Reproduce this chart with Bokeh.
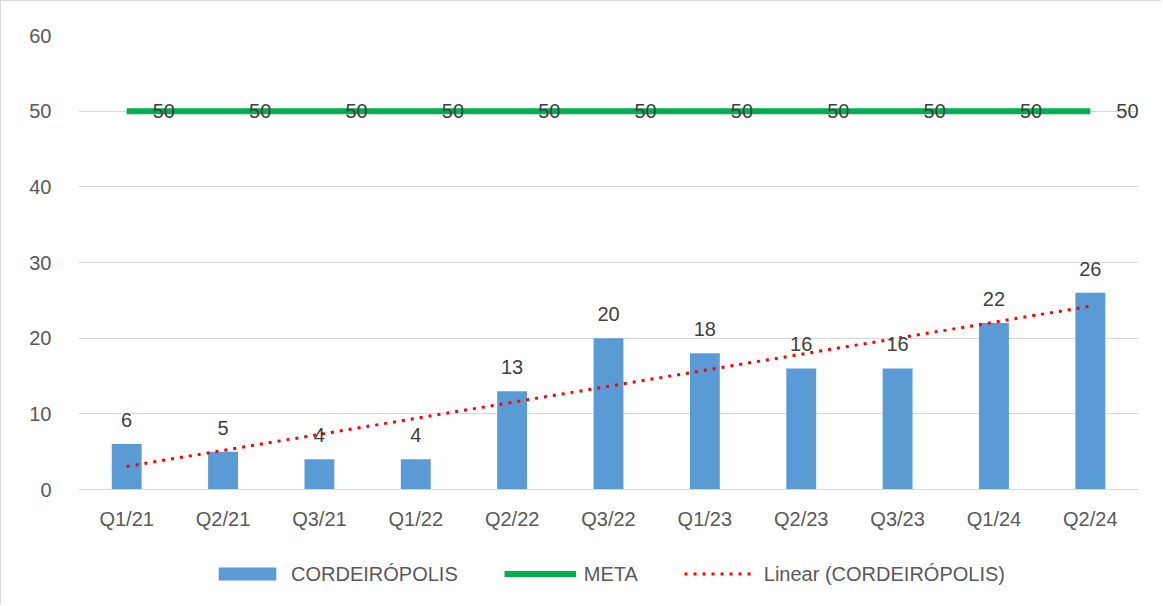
from bokeh.plotting import figure
from bokeh.layouts import column
from bokeh.models import (ColumnDataSource, LabelSet, Legend, LegendItem, FixedTicker, Range1d)
from bokeh.core.properties import value
from bokeh.embed import file_html
from bokeh.resources import INLINE
import numpy as np

categories = ["Q1/21", "Q2/21", "Q3/21", "Q1/22", "Q2/22", "Q3/22", "Q1/23", "Q2/23", "Q3/23", "Q1/24", "Q2/24"]
cordeiropolis = [6, 5, 4, 4, 13, 20, 18, 16, 16, 22, 26]
meta = [50, 50, 50, 50, 50, 50, 50, 50, 50, 50, 50]
y_ticks = [0, 10, 20, 30, 40, 50, 60]
series_names = ["CORDEIRÓPOLIS", "META", "Linear (CORDEIRÓPOLIS)"]

FONT = "Liberation Sans"
GRAY = "#595959"
BAR_C, META_C, TREND_C = "#5B9BD5", "#00B050", "#FF0000"
BORDER = "1px solid #D9D9D9"

idx = np.arange(1, len(categories) + 1)
slope, intercept = np.polyfit(idx, cordeiropolis, 1)
trend = list(intercept + slope * idx)

src = ColumnDataSource(dict(cat=categories, val=cordeiropolis, meta=meta, trend=trend,
                            val_lbl=[str(v) for v in cordeiropolis],
                            meta_lbl=[str(v) for v in meta]))

p = figure(x_range=categories, y_range=Range1d(0, 60), width=1161, height=543,
           output_backend="svg", toolbar_location=None,
           min_border_left=77, min_border_right=24, min_border_top=34, min_border_bottom=55)
p.x_range.range_padding = 0

p.vbar(x="cat", top="val", width=0.31, source=src, color=BAR_C, line_color=None)
p.line(x="cat", y="meta", source=src, line_color=META_C, line_width=6)
p.line(x="cat", y="trend", source=src, line_color=TREND_C, line_width=3, line_dash="3 6")

p.add_layout(LabelSet(x="cat", y="val", text="val_lbl", source=src, text_align="center",
                      text_baseline="bottom", y_offset=17, text_font=value(FONT),
                      text_font_size="20px", text_color="#404040"))
p.add_layout(LabelSet(x="cat", y="meta", text="meta_lbl", source=src, text_align="left",
                      text_baseline="middle", x_offset=26, text_font=value(FONT),
                      text_font_size="20px", text_color="#404040"))

p.yaxis.ticker = FixedTicker(ticks=y_ticks)
p.ygrid.ticker = FixedTicker(ticks=y_ticks)
p.ygrid.grid_line_color = "#D9D9D9"
p.ygrid.grid_line_width = 1
p.xgrid.grid_line_color = None
p.outline_line_color = None

p.yaxis.axis_line_color = None
p.yaxis.major_tick_line_color = None
p.yaxis.minor_tick_line_color = None
p.yaxis.major_label_text_font = FONT
p.yaxis.major_label_text_font_size = "20px"
p.yaxis.major_label_text_color = GRAY
p.yaxis.major_label_standoff = 21

p.xaxis.axis_line_color = "#D9D9D9"
p.xaxis.major_tick_line_color = None
p.xaxis.minor_tick_line_color = None
p.xaxis.major_label_text_font = FONT
p.xaxis.major_label_text_font_size = "20px"
p.xaxis.major_label_text_color = GRAY
p.xaxis.major_label_standoff = 12

p.styles = {"border-left": BORDER, "border-top": BORDER}

# legend strip below the chart (same series, drawn outside its visible y range)
leg = figure(x_range=categories, y_range=Range1d(1000, 1001), width=1161, height=61,
             output_backend="svg", toolbar_location=None,
             x_axis_location=None, y_axis_location=None,
             min_border_left=32, min_border_right=0, min_border_top=0, min_border_bottom=0)
leg.grid.grid_line_color = None
leg.outline_line_color = None
r_bar = leg.vbar(x="cat", top="val", width=0.31, source=src, color=BAR_C, line_color=None)
r_meta = leg.line(x="cat", y="meta", source=src, line_color=META_C, line_width=6)
r_trend = leg.line(x="cat", y="trend", source=src, line_color=TREND_C, line_width=3,
                   line_dash="3 6")

legend = Legend(items=[LegendItem(label=series_names[0], renderers=[r_bar]),
                       LegendItem(label=series_names[1], renderers=[r_meta]),
                       LegendItem(label=series_names[2], renderers=[r_trend])],
                orientation="horizontal", location="center")
legend.glyph_width = 72
legend.glyph_height = 16
legend.label_standoff = 8
legend.label_text_font = FONT
legend.label_text_font_size = "20px"
legend.label_text_color = GRAY
legend.spacing = 46
legend.border_line_color = None
legend.background_fill_alpha = 0
legend.margin = 0
leg.add_layout(legend)
leg.styles = {"border-left": BORDER}

layout = column(p, leg, spacing=0)

open("out.html", "w").write(file_html(layout, INLINE))
